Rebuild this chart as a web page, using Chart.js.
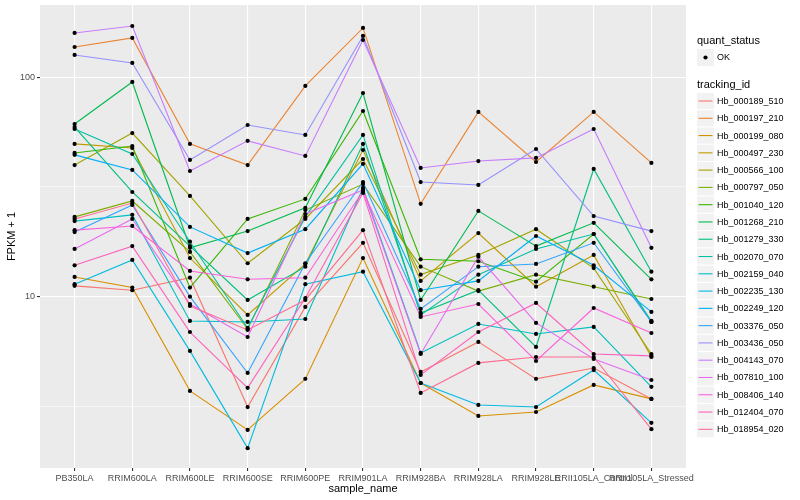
<!DOCTYPE html>
<html>
<head>
<meta charset="utf-8">
<script src="https://cdn.jsdelivr.net/npm/chart.js@4.4.1/dist/chart.umd.min.js"></script>
<style>
  html, body { margin: 0; padding: 0; background: #fff; }
  #wrap { width: 800px; height: 500px; }
</style>
</head>
<body>
<div id="wrap"><canvas id="c" width="800" height="500"></canvas></div>
<script>
// samples on the x axis
const samples = ["PB350LA", "RRIM600LA", "RRIM600LE", "RRIM600SE", "RRIM600PE", "RRIM901LA",
  "RRIM928BA", "RRIM928LA", "RRIM928LE", "RRII105LA_Control", "RRII105LA_Stressed"];

const trackingIds = ["Hb_000189_510", "Hb_000197_210", "Hb_000199_080", "Hb_000497_230", "Hb_000566_100",
  "Hb_000797_050", "Hb_001040_120", "Hb_001268_210", "Hb_001279_330", "Hb_002070_070",
  "Hb_002159_040", "Hb_002235_130", "Hb_002249_120", "Hb_003376_050", "Hb_003436_050",
  "Hb_004143_070", "Hb_007810_100", "Hb_008406_140", "Hb_012404_070", "Hb_018954_020"];

// ggplot hue palette, 20 levels
const colors = ["#F8766D", "#EA8331", "#D89000", "#C09B00", "#A3A500", "#7CAE00", "#39B600", "#00BB4E",
  "#00BF7D", "#00C1A3", "#00BFC4", "#00BAE0", "#00B0F6", "#35A2FF", "#9590FF", "#C77CFF",
  "#E76BF3", "#FA62DB", "#FF62BC", "#FF6C91"];

// FPKM + 1, one array per gene, in sample order
const hb_000189_510 = [11.2, 10.7, 12.2, 3.14, 8.98, 17.6, 4.54, 6.22, 4.22, 4.73, 3.42];
const hb_000197_210 = [137.4, 151.1, 49.7, 39.8, 91.3, 167.8, 26.5, 69.5, 41.1, 69.5, 40.7];
const hb_000199_080 = [12.3, 11.0, 3.72, 2.47, 4.22, 15.0, 4.04, 2.86, 2.98, 3.96, 3.42];
const hb_000497_230 = [49.7, 47.6, 15.0, 8.26, 14.1, 46.6, 11.8, 19.5, 11.1, 15.5, 5.31];
const hb_000566_100 = [39.8, 55.7, 28.8, 14.2, 22.6, 42.4, 12.6, 15.5, 20.3, 13.5, 5.48];
const hb_000797_050 = [23.1, 27.3, 16.0, 7.12, 24.8, 32.6, 13.7, 10.6, 12.6, 11.1, 9.76];
const hb_001040_120 = [45.2, 48.6, 11.0, 22.6, 27.9, 70.2, 14.8, 14.5, 11.7, 19.3, 7.67];
const hb_001268_210 = [61.2, 95.2, 16.7, 19.9, 25.4, 84.8, 9.66, 24.6, 17.0, 21.7, 12.0];
const hb_001279_330 = [59.3, 30.0, 17.0, 9.66, 13.7, 49.7, 8.43, 10.7, 5.90, 38.2, 13.0];
const hb_002070_070 = [58.1, 44.7, 17.8, 7.20, 23.1, 54.6, 8.26, 12.6, 16.5, 19.3, 7.75];
const hb_002159_040 = [22.1, 23.6, 7.75, 7.67, 7.91, 31.3, 5.54, 7.51, 6.76, 7.28, 3.88];
const hb_002235_130 = [11.4, 14.7, 5.66, 2.04, 11.4, 13.0, 4.04, 3.21, 3.14, 4.63, 2.66];
const hb_002249_120 = [44.3, 37.8, 20.8, 15.8, 20.3, 40.3, 10.7, 11.8, 18.9, 13.9, 8.52];
const hb_003376_050 = [19.7, 26.2, 10.0, 4.49, 14.2, 33.3, 8.79, 13.7, 14.1, 17.6, 7.67];
const hb_003436_050 = [126.4, 116.2, 42.0, 60.6, 54.6, 154.3, 33.3, 32.3, 47.1, 23.3, 19.9];
const hb_004143_070 = [159.2, 171.3, 37.4, 51.3, 43.8, 147.9, 38.6, 41.5, 42.9, 58.1, 16.7];
const hb_007810_100 = [16.5, 22.6, 9.26, 6.55, 23.8, 30.6, 5.48, 15.2, 7.59, 5.20, 4.17];
const hb_008406_140 = [20.1, 21.0, 13.1, 12.0, 12.2, 30.3, 8.08, 9.26, 5.09, 8.88, 6.83];
const hb_012404_070 = [13.9, 17.0, 6.90, 3.84, 9.86, 29.7, 4.40, 6.90, 9.36, 5.48, 5.37];
const hb_018954_020 = [22.6, 26.7, 9.07, 7.05, 9.66, 20.1, 3.64, 4.99, 5.31, 5.31, 2.49];

const series = [hb_000189_510, hb_000197_210, hb_000199_080, hb_000497_230, hb_000566_100,
  hb_000797_050, hb_001040_120, hb_001268_210, hb_001279_330, hb_002070_070,
  hb_002159_040, hb_002235_130, hb_002249_120, hb_003376_050, hb_003436_050,
  hb_004143_070, hb_007810_100, hb_008406_140, hb_012404_070, hb_018954_020];

const yTicks = [10, 100];
const yMinor = [3.1623, 31.623];

const FONT = '"Liberation Sans", Arial, Helvetica, sans-serif';

function toXY(values) {
    return values.map((v, i) => ({ x: i, y: v }));
}

// lines first (bottom), black points on top like geom_line + geom_point
const datasets = [];
series.forEach((vals, i) => {
    datasets.push({
        label: trackingIds[i],
        data: toXY(vals),
        borderColor: colors[i],
        borderWidth: 1.1,
        pointRadius: 0,
        fill: false,
        tension: 0,
        order: 100 - i,
    });
});
series.forEach((vals, i) => {
    datasets.push({
        label: trackingIds[i] + " OK",
        data: toXY(vals),
        showLine: false,
        pointRadius: 2.1,
        pointBackgroundColor: "#000",
        pointBorderWidth: 0,
        order: 0,
    });
});

// panel background, axis titles and the two-part legend
const ggplotBits = {
    id: "ggplotBits",
    beforeDraw(chart) {
        const { ctx, chartArea: a } = chart;
        ctx.save();
        ctx.fillStyle = "#EBEBEB";
        ctx.fillRect(a.left, a.top, a.right - a.left, a.bottom - a.top);
        ctx.restore();
    },
    afterDraw(chart) {
        const { ctx, chartArea: a } = chart;
        ctx.save();
        ctx.fillStyle = "#000";
        ctx.font = "11px " + FONT;
        ctx.textAlign = "center";
        ctx.textBaseline = "middle";
        ctx.fillText("sample_name", (a.left + a.right) / 2, 489);
        ctx.save();
        ctx.translate(12, (a.top + a.bottom) / 2);
        ctx.rotate(-Math.PI / 2);
        ctx.fillText("FPKM + 1", 0, 0);
        ctx.restore();

        // legend
        const lx = 697;
        ctx.textAlign = "left";
        ctx.font = "11px " + FONT;
        ctx.fillText("quant_status", lx, 41);
        ctx.fillStyle = "#F2F2F2";
        ctx.fillRect(lx, 49, 17, 17);
        ctx.fillStyle = "#000";
        ctx.beginPath();
        ctx.arc(lx + 8.5, 57.5, 2.1, 0, Math.PI * 2);
        ctx.fill();
        ctx.font = "9px " + FONT;
        ctx.fillText("OK", lx + 20, 57.5);

        ctx.font = "11px " + FONT;
        ctx.fillText("tracking_id", lx, 85);
        const step = 17.28;
        trackingIds.forEach((id, i) => {
            const cy = 101 + i * step;
            ctx.fillStyle = "#F2F2F2";
            ctx.fillRect(lx, cy - 8.1, 17, 16.2);
            ctx.strokeStyle = colors[i];
            ctx.lineWidth = 1.1;
            ctx.beginPath();
            ctx.moveTo(lx + 1.5, cy);
            ctx.lineTo(lx + 15.5, cy);
            ctx.stroke();
            ctx.fillStyle = "#000";
            ctx.font = "9px " + FONT;
            ctx.fillText(id, lx + 20, cy + 0.5);
        });
        ctx.restore();
    },
};

new Chart(document.getElementById("c"), {
    type: "line",
    data: { datasets },
    plugins: [ggplotBits],
    options: {
        responsive: false,
        animation: false,
        layout: { padding: { top: 5, right: 114, left: 0, bottom: 0 } },
        plugins: { legend: { display: false }, tooltip: { enabled: false } },
        scales: {
            x: {
                type: "linear",
                min: -0.6,
                max: 10.6,
                afterBuildTicks: (scale) => {
                    scale.ticks = samples.map((s, i) => ({ value: i }));
                },
                afterFit: (scale) => {
                    scale.height = 32;
                    scale.paddingLeft = 0;
                    scale.paddingRight = 0;
                },
                border: { display: false },
                grid: { color: "#FFFFFF", lineWidth: 1.1, tickColor: "#333333", tickLength: 3 },
                ticks: {
                    autoSkip: false,
                    maxRotation: 0,
                    minRotation: 0,
                    padding: 2,
                    color: "#4D4D4D",
                    font: { family: FONT, size: 9 },
                    callback: (v) => samples[v] ?? "",
                },
            },
            y: {
                type: "logarithmic",
                min: 1.656,
                max: 213.5,
                afterBuildTicks: (scale) => {
                    scale.ticks = [yMinor[0], yTicks[0], yMinor[1], yTicks[1]].map((v) => ({ value: v }));
                },
                afterFit: (scale) => {
                    scale.width = 40;
                    scale.paddingTop = 0;
                    scale.paddingBottom = 0;
                },
                border: { display: false },
                grid: {
                    color: "#FFFFFF",
                    lineWidth: (c) => (yTicks.includes(c.tick && c.tick.value) ? 1.1 : 0.55),
                    tickColor: (c) => (yTicks.includes(c.tick && c.tick.value) ? "#333333" : "rgba(0,0,0,0)"),
                    tickLength: 3,
                },
                ticks: {
                    padding: 2,
                    color: "#4D4D4D",
                    font: { family: FONT, size: 9 },
                    callback: (v) => (yTicks.includes(v) ? String(v) : ""),
                },
            },
        },
    },
});
</script>
</body>
</html>
